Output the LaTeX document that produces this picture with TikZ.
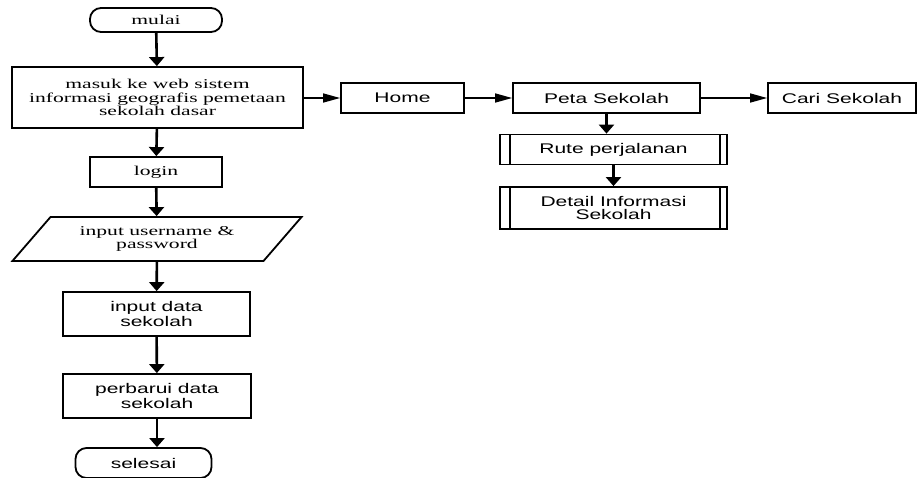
\documentclass[tikz,border=0pt]{standalone}
\usepackage{fontspec}
\setmainfont{Liberation Serif}[FakeStretch=1.6]
\setsansfont{Liberation Sans}[FakeStretch=1.5]
\usepackage{tikz}
\usetikzlibrary{shapes.geometric, positioning, arrows.meta, calc}

\begin{document}
\begin{tikzpicture}[x=1pt, y=-1pt,
          base/.style={draw, line width=1.8pt, inner sep=0pt, align=center},
          rmtxt/.style={font=\rmfamily\fontsize{13.5}{13.5}\selectfont},
          sftxt/.style={font=\sffamily\fontsize{14}{12.5}\selectfont},
          term/.style={base, rounded corners=11pt},
          proc/.style={base, rectangle},
          io/.style={base, trapezium, trapezium left angle=42.5,
                     trapezium right angle=137.5, trapezium stretches=true},
          subproc/.style={proc, path picture={
              \draw[line width=1.8pt]
                ([xshift=10pt]path picture bounding box.north west) --
                ([xshift=10pt]path picture bounding box.south west);
              \draw[line width=1.8pt]
                ([xshift=-7pt]path picture bounding box.north east) --
                ([xshift=-7pt]path picture bounding box.south east);}},
          varr/.style={-{Triangle[length=9pt, width=15pt]}, line width=2.6pt},
          harr/.style={-{Triangle[length=17pt, width=9pt]}, line width=1.5pt}
        ]
        \useasboundingbox (0,0) rectangle (917,477);

        % Left column
        \node[term, rmtxt, minimum width=132pt, minimum height=24pt]
              (mulai) at (156, 20) {mulai};
        \node[proc, rmtxt, minimum width=291pt, minimum height=61pt]
              (masuk) at (157.5, 97.5)
              {masuk ke web sistem\\informasi geografis pemetaan\\sekolah dasar};
        \node[proc, rmtxt, minimum width=132pt, minimum height=30pt]
              (login) at (156, 172) {login};
        \node[io, rmtxt, minimum width=290pt, minimum height=44pt]
              (userpass) at (157, 239) {input username \&\\password};
        \node[proc, sftxt, minimum width=187pt, minimum height=44pt]
              (inputdata) at (156.5, 314) {input data\\sekolah};
        \node[proc, sftxt, minimum width=188pt, minimum height=44pt]
              (perbarui) at (157, 396) {perbarui data\\sekolah};
        \node[term, sftxt, minimum width=136pt, minimum height=30pt]
              (selesai) at (143.5, 463) {selesai};

        \draw[varr] (mulai) -- (masuk);
        \draw[varr] (masuk) -- (login);
        \draw[varr] (login) -- (userpass);
        \draw[varr] (userpass) -- (inputdata);
        \draw[varr] (inputdata) -- (perbarui);
        \draw[varr] (perbarui.south) -- (perbarui.south |- selesai.north);

        % Menu
        \node[proc, sftxt, minimum width=123pt, minimum height=30pt]
              (home) at (402.5, 98) {Home};
        \node[proc, sftxt, minimum width=187pt, minimum height=30pt]
              (peta) at (606.5, 98) {Peta Sekolah};
        \node[proc, sftxt, minimum width=148pt, minimum height=30pt]
              (cari) at (842, 98) {Cari Sekolah};
        \node[subproc, sftxt, minimum width=227pt, minimum height=30pt]
              (rute) at (613.5, 149.5) {Rute perjalanan};
        \node[subproc, sftxt, minimum width=227pt, minimum height=42pt]
              (detail) at (613.5, 208) {Detail Informasi\\Sekolah};

        \draw[harr] (masuk.east |- home) -- (home);
        \draw[harr] (home) -- (peta);
        \draw[harr] (peta) -- (cari);
        \draw[varr] (peta.south) -- (peta.south |- rute.north);
        \draw[varr] (rute) -- (detail);
      \end{tikzpicture}
\end{document}
